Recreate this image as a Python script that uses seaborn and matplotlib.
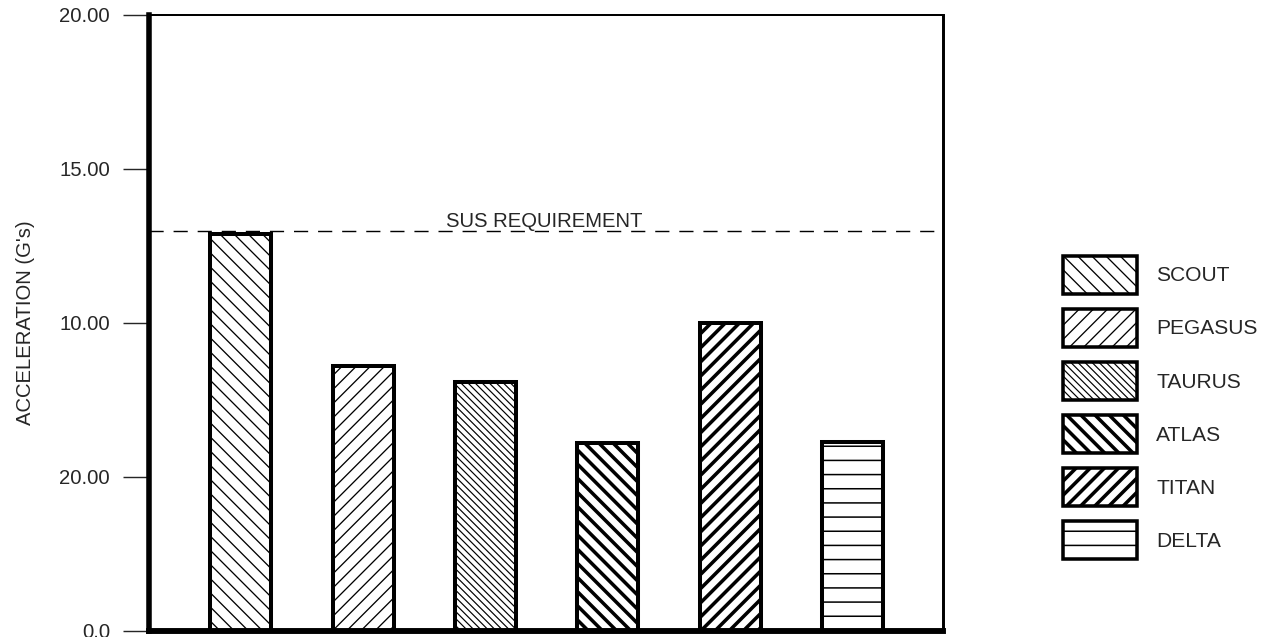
import matplotlib
matplotlib.use('Agg')
import matplotlib.pyplot as plt
from matplotlib.patches import Patch
import seaborn as sns

# values
vehicles = ['SCOUT', 'PEGASUS', 'TAURUS', 'ATLAS', 'TITAN', 'DELTA']
accel = [12.9, 8.6, 8.1, 6.1, 10.0, 6.15]
sus_requirement = 13.0
hatches = ['\\\\', '//', '\\\\\\\\', '\\\\', '//', '-']
hatch_widths = [1.1, 1.1, 1.0, 3.0, 3.0, 1.3]
ytick_vals = [0, 5, 10, 15, 20]
ytick_labels = ['0.0', '20.00', '10.00', '15.00', '20.00']

sns.set_style('white')
plt.rcParams['font.family'] = ['Liberation Sans', 'DejaVu Sans']
plt.rcParams['hatch.linewidth'] = 1.1

DPI = 85
fig = plt.figure(figsize=(1271 / DPI, 637 / DPI), dpi=DPI)
ax = fig.add_axes([149 / 1271, 6 / 637, 794 / 1271, 616 / 637])


def set_hatch_lw(patch, lw):
    if hasattr(patch, 'set_hatch_linewidth'):
        patch.set_hatch_linewidth(lw)
    else:
        draw = patch.draw

        def _draw(renderer, draw=draw):
            with plt.rc_context({'hatch.linewidth': lw}):
                draw(renderer)
        patch.draw = _draw


sns.barplot(x=vehicles, y=accel, color='white', edgecolor='black',
            linewidth=3.4, width=0.5, saturation=1, ax=ax)
for bar, h, hw in zip(ax.patches, hatches, hatch_widths):
    bar.set_facecolor('white')
    bar.set_hatch(h)
    set_hatch_lw(bar, hw)

# requirement line
ax.axhline(sus_requirement, color='black', lw=1.2, dashes=(10, 7), zorder=1)
ax.annotate('SUS REQUIREMENT', xy=(1.675, sus_requirement), xytext=(0, 3),
            textcoords='offset points', va='baseline', ha='left', fontsize=17.2)

ax.set_xlim(-0.75, 5.74)
ax.set_ylim(0, 20)
ax.set_xticks([])
ax.set_xlabel('')
ax.set_yticks(ytick_vals)
ax.set_yticklabels(ytick_labels, fontsize=17.2)
ax.tick_params(axis='y', direction='out', length=22, width=1.2, pad=11, left=True)
ax.set_ylabel("ACCELERATION (G's)", fontsize=17.2)
ax.yaxis.set_label_coords(-0.143, 0.5)

for side, lw in [('left', 4.7), ('bottom', 5.0), ('top', 1.7), ('right', 2.5)]:
    ax.spines[side].set_visible(True)
    ax.spines[side].set_color('black')
    ax.spines[side].set_linewidth(lw)

handles = [Patch(facecolor='white', edgecolor='black', hatch=h, linewidth=3.0)
           for h in hatches]
leg = fig.legend(handles, vehicles, loc='upper left',
                 bbox_to_anchor=(1063 / 1271, 1 - 256 / 637),
                 frameon=False, fontsize=17.8, handlelength=3.5, handleheight=2.4,
                 labelspacing=0.72, handletextpad=0.93, borderpad=0, borderaxespad=0)
for p, hw in zip(leg.get_patches(), hatch_widths):
    set_hatch_lw(p, hw)

fig.savefig('out.png', dpi=DPI)
